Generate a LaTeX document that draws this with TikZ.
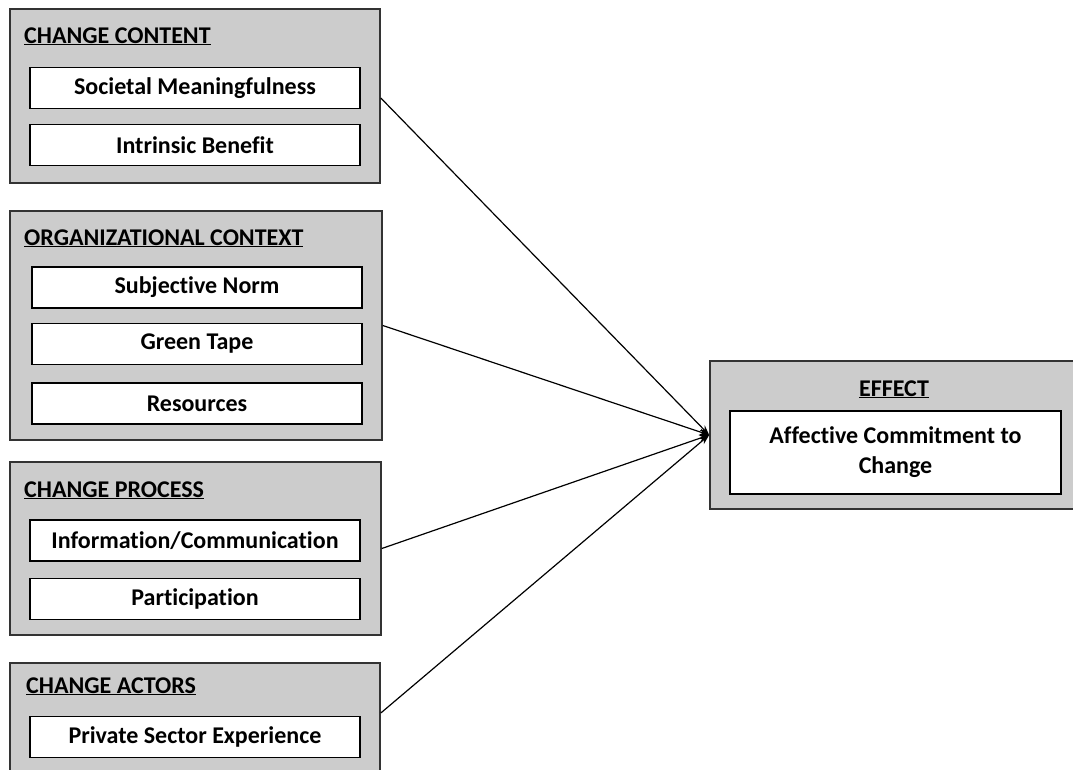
\documentclass[tikz,border=0pt]{standalone}
\usepackage{fontspec}
\setmainfont[Ligatures=NoCommon]{Carlito}
\usetikzlibrary{arrows.meta}

\begin{document}
\begin{tikzpicture}[
    x=1pt, y=-1pt,
    group/.style={rectangle, draw=black!80, line width=1.6pt, fill=black!20, inner sep=0pt},
    item/.style={rectangle, draw=black, line width=1.6pt, fill=white, minimum width=330pt, minimum height=41pt, inner sep=0pt, font=\fontsize{24}{30}\selectfont\bfseries},
    heading/.style={anchor=base west, inner sep=0pt, font=\fontsize{24}{30}\selectfont\bfseries},
    arrow/.style={-{Stealth[length=10pt, width=7pt]}, line width=1.2pt}
]
\useasboundingbox (0,0) rectangle (1073,769);
\clip (0,0) rectangle (1073,769);
\fill[white] (0,0) rectangle (1073,769);

% Groups
\node[group, minimum width=370pt, minimum height=174pt] (content) at (195,96) {};
\node[group, minimum width=372pt, minimum height=229pt] (context) at (196,325.5) {};
\node[group, minimum width=371pt, minimum height=173pt] (process) at (195.5,548.5) {};
\node[group, minimum width=370pt, minimum height=120pt] (actors) at (195,723) {};
\node[group, minimum width=375pt, minimum height=148pt] (effect) at (897.5,435) {};

% Headings
\node[heading] (contenttitle) at (24,43) {\underline{CHANGE CONTENT}};
\node[heading] (contexttitle) at (24,245) {\underline{ORGANIZATIONAL CONTEXT}};
\node[heading] (processtitle) at (24,497) {\underline{CHANGE PROCESS}};
\node[heading] (actorstitle) at (26,693) {\underline{CHANGE ACTORS}};
\node[heading, anchor=base] (effecttitle) at (894,396) {\underline{EFFECT}};

% Items
\node[item] (meaning) at (195,88) {Societal Meaningfulness};
\node[item] (benefit) at (195,145) {Intrinsic Benefit};
\node[item] (norm) at (197,287.5) {Subjective Norm};
\node[item] (tape) at (197,344) {Green Tape};
\node[item] (resources) at (197,403.5) {Resources};
\node[item] (info) at (195,540.5) {Information/Communication};
\node[item] (participation) at (195,599) {Participation};
\node[item] (private) at (195,737) {Private Sector Experience};
\node[item, minimum width=331pt, minimum height=83pt, align=center] (commitment) at (895.5,452.5) {Affective Commitment to\\Change};

% Arrows
\draw[arrow] ([yshift=-2pt]content.east) -- (effect.west);
\draw[arrow] (context.east) -- (effect.west);
\draw[arrow] (process.east) -- (effect.west);
\draw[arrow] ([yshift=10pt]actors.east) -- (effect.west);

\end{tikzpicture}
\end{document}
